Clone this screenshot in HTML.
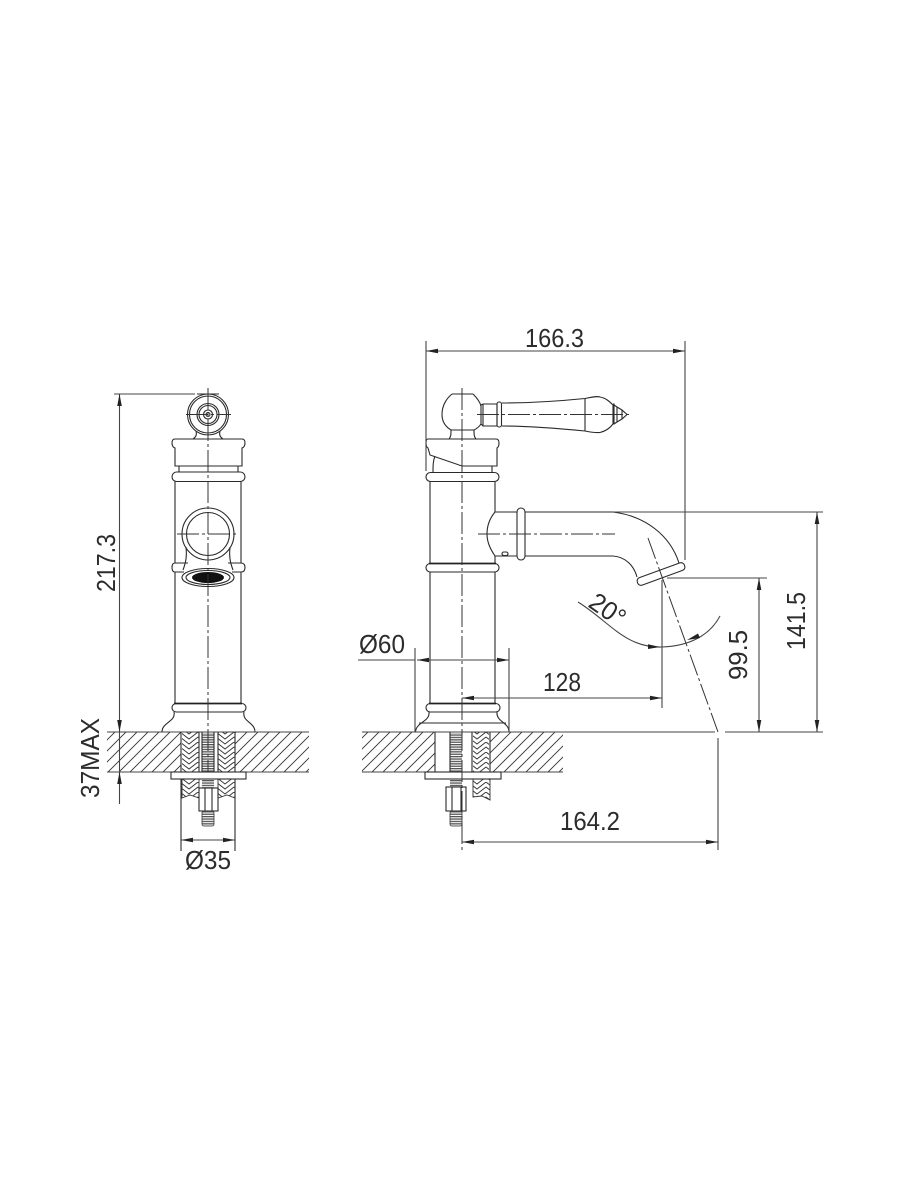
<!DOCTYPE html>
<html><head><meta charset="utf-8"><style>
html,body{margin:0;padding:0;background:#fff}
svg{display:block}
text{font-family:"Liberation Sans",sans-serif;font-size:26px;fill:#2c2c2c}
.o{fill:none;stroke:#2a2a2a;stroke-width:1.1}
.w{fill:#fff;stroke:#2a2a2a;stroke-width:1.1}
.d{fill:none;stroke:#444;stroke-width:1.1}
.c{fill:none;stroke:#333;stroke-width:1;stroke-dasharray:22 3 3 3}
.a{fill:#222;stroke:none}
</style></head><body>
<svg width="900" height="1200" viewBox="0 0 900 1200" xmlns="http://www.w3.org/2000/svg">
<defs>
<pattern id="h" width="11" height="11" patternUnits="userSpaceOnUse"><path d="M-2 13 L13 -2 M-2 2 L2 -2 M9 13 L13 9" stroke="#333" stroke-width=".9" fill="none"/></pattern>
<pattern id="z" x="0" y="732" width="18" height="10" patternUnits="userSpaceOnUse"><path d="M0 0 L9 7 L18 0 M0 -5 L9 2 L18 -5 M0 5 L9 12 L18 5" stroke="#333" stroke-width=".9" fill="none"/></pattern>
<pattern id="t" width="4" height="2.4" patternUnits="userSpaceOnUse"><rect width="4" height="1.3" fill="#555"/></pattern>
</defs>

<!-- LEFT VIEW -->
<g>
<path class="o" d="M196 431 C197 435 196 437 193 439 M220 431 C219 435 220 437 223 439"/>
<path class="o" d="M197 394 H219"/>
<circle class="o" cx="208" cy="414.5" r="20.5"/><circle class="o" cx="208" cy="414.5" r="18.5"/>
<circle class="o" cx="208" cy="414.5" r="11"/><circle class="o" cx="208" cy="414.5" r="9"/>
<circle class="o" cx="208" cy="414.5" r="4.5"/><circle class="o" cx="208" cy="414.5" r="2"/>
<path class="o" d="M175 439 H242 Q245 439 245 443 Q245 447 242 448 V466 H175 V448 Q172 447 172 443 Q172 439 175 439Z"/>
<path class="o" d="M179 466 V472 M238 466 V472"/>
<rect class="o" x="172" y="472" width="73" height="9.5" rx="4.7"/>
<path class="o" d="M175 481.500 V563 M241 481.500 V563 M175 572 V703 M241 572 V703"/>
<path class="o" d="M175 563 H188 M228 563 H241 M175 572 H184 M232 572 H241"/>
<path class="o" d="M175 563 Q172 563 172 567.500 Q172 572 175 572 M241 563 Q245 563 245 567.500 Q245 572 241 572"/>
<circle class="o" cx="208" cy="534" r="26"/><circle class="o" cx="208" cy="534" r="21.500"/>
<path class="o" d="M186 547 C187 556 186 562 183 570 M230 547 C229 556 230 562 233 570"/>
<ellipse class="w" cx="208" cy="577.500" rx="26" ry="9"/>
<ellipse class="o" cx="208" cy="577.500" rx="22" ry="7"/>
<ellipse cx="208" cy="577.500" rx="16" ry="5.500" fill="#111"/>
<!-- base -->
<rect class="o" x="172" y="703.500" width="74" height="8.500" rx="4.200"/>
<path d="M174 703.500 H242" stroke="#222" stroke-width="1.800"/>
<path class="o" d="M174 712 C176 722 162 722 162 732 M244 712 C242 722 255 722 255 732"/>
<!-- counter -->
<rect x="107" y="732" width="74" height="40" fill="url(#h)"/><rect x="235" y="732" width="74" height="40" fill="url(#h)"/>
<path class="d" d="M107 732 H309 M107 772 H171 M246 772 H309"/>
<path class="o" d="M181 732 V772 M235 732 V772"/>
<rect x="182" y="732" width="17" height="40" fill="url(#z)"/><rect x="218" y="732" width="17" height="40" fill="url(#z)"/>
<path d="M182 779 H199 V798 L190 795 L182 798Z M218 779 H235 V798 L227 795 L218 798Z" fill="url(#z)" stroke="#333" stroke-width=".9"/>
<path class="o" d="M199 732 V772 M218 732 V772"/>
<rect x="202" y="733" width="12" height="39" fill="url(#t)"/>
<path class="o" d="M202 732 V772 M214 732 V772"/>
<rect class="w" x="171" y="772" width="75" height="7"/>
<rect x="202" y="779" width="12" height="9" fill="url(#t)"/>
<rect class="w" x="199" y="788" width="19" height="23"/><path class="o" d="M205 788 V811 M212 788 V811"/>
<rect x="202" y="811" width="12" height="15" rx="2" fill="url(#t)" stroke="#333" stroke-width=".8"/>
<path class="c" d="M208 388 V772"/>
<path class="c" d="M177 534 H239"/><path class="c" d="M186 414.500 H231" stroke-dasharray="8 2 3 2"/>
<path class="o" d="M181 779 V851 M235 779 V851"/>
<!-- dims -->
<path class="d" d="M114 394 H195 M119.500 394 V804 M181 840 H235"/>
<path class="a" d="M119.500 394 l-2.300 12 h4.600Z M119.500 732 l-2.300 -12 h4.600Z M119.500 772 l-2.300 12 h4.600Z M181 840 l12 -2.300 v4.600Z M235 840 l-12 -2.300 v4.600Z"/>
</g>

<!-- RIGHT VIEW -->
<g>
<path class="o" d="M452 394 H473 M452 394 C447 398 442 405 442 414.500 C442 422 446 427 451 430 C451 434 451 437 449 439 M473 394 C476 397 480 402 481 406 M481 424 C479 427 476 429 474 430 C474 434 474 437 476 439"/>
<path class="o" d="M451 430 H474"/>
<path class="o" d="M481 405 L483 404 H497 V426 H483 L481 424Z M483 404 V426"/>
<rect class="o" x="497" y="402" width="4.500" height="25" rx="2"/>
<path class="o" d="M502 403 C530 403 560 401 585 398.500 C592 397 597 396 600 397 C606 398 610 402 613 405 V424 C610 428 606 431 600 432.500 C595 433 590 432 585 431 C560 428.500 530 426 502 426"/>
<path class="o" d="M585 398.500 V431"/>
<path class="o" d="M613 404 H614 V424 H613 M614 405 L617 407 L622 410 L627 414.500 L622 419 L617 422 L614 424 M617 407 V422 M622 410 V419"/>
<!-- cap -->
<path class="o" d="M428 439 H496 Q499 439 499 443 Q499 447 497 448 V466 H462 L430 455 L428 448 Q426 447 426 443 Q426 439 428 439Z"/>
<path class="o" d="M435 456 C433 461 433 466 433 472 M492 466 V472"/>
<rect class="w" x="426" y="472.500" width="73" height="9" rx="4.500"/>
<path class="o" d="M430 481.500 V563 M495 481.500 V512 M495 556 V563 M430 572 V703 M495 572 V703"/>
<rect class="w" x="426" y="563.500" width="73" height="8.500" rx="4.200"/>
<path d="M429 563.500 H496" stroke="#222" stroke-width="1.800"/>
<!-- spout -->
<path class="o" d="M495 512 C490 518 487 526 487 534 C487 543 491 550 495 556"/>
<path class="o" d="M495 512 H517 M525 512 H613 C645 516 670 535 679 563 M495 556 H517 M525 556 H613 C626 557 634 566 637 577"/>
<rect class="w" x="517" y="508" width="8" height="52" rx="4"/>
<rect class="o" x="502" y="552" width="6" height="3.500" rx="1.700"/>
<rect class="w" x="636" y="570" width="50" height="8" rx="3.500" transform="rotate(-20 661 574)"/>
<!-- base -->
<rect class="o" x="426" y="703.500" width="74" height="8.500" rx="4.200"/>
<path d="M429 703.500 H496" stroke="#222" stroke-width="1.800"/>
<path class="o" d="M429 712 C430 722 416 722 415.500 732 M497 712 C496 722 509 722 509 732 M419 723 H506"/>
<!-- counter -->
<rect x="362" y="732" width="73" height="40" fill="url(#h)"/><rect x="490" y="732" width="73" height="40" fill="url(#h)"/>
<path class="d" d="M362 732 H715 M362 772 H425 M501 772 H563 M725 732 H823"/>
<path class="o" d="M435 732 V772 M490 732 V772 M472 732 V772"/>
<rect x="473" y="732" width="16" height="40" fill="url(#z)"/>
<path d="M473 779 H490 V800 L482 796 L473 797Z" fill="url(#z)" stroke="#333" stroke-width=".9"/>
<rect x="450" y="733" width="12" height="39" fill="url(#t)"/>
<path class="o" d="M450 732 V772"/>
<rect class="w" x="425" y="772" width="76" height="7"/>
<rect x="450" y="779" width="12" height="8" fill="url(#t)"/>
<rect class="w" x="446" y="787" width="20" height="24"/><path class="o" d="M452 787 V811 M461 787 V811"/>
<rect x="450" y="811" width="12" height="15" rx="2" fill="url(#t)" stroke="#333" stroke-width=".8"/>
<!-- centre lines -->
<path class="c" d="M462 388 V850"/>
<path class="c" d="M477 414.500 H632"/>
<path class="c" d="M478 534 H615"/>
<path class="c" d="M648 538 L718 732"/>
<!-- dims -->
<path class="d" d="M426 341 V471 M685 341 V560 M426 351 H685"/>
<path class="d" d="M613 512 H823 M667 578 H767 M759 578 V732 M817 512 V732"/>
<path class="d" d="M662 580 V708 M415 648 V732 M509 648 V732"/>
<path class="d" d="M358 660 H415 M417 660 H509 M462 698 H662"/>
<path class="d" d="M718 738 V850 M462 842 H718"/>
<path class="d" d="M578 602 C610 622 625 648 662 647 C690 646 710 635 720 616"/>
<path class="a" d="M426 351 l12 -2.300 v4.600Z M685 351 l-12 -2.300 v4.600Z M759 578 l-2.300 12 h4.600Z M759 732 l-2.300 -12 h4.600Z M817 512 l-2.300 12 h4.600Z M817 732 l-2.300 -12 h4.600Z M417 660 l12 -2.300 v4.600Z M509 660 l-12 -2.300 v4.600Z M462 698 l12 -2.300 v4.600Z M662 698 l-12 -2.300 v4.600Z M462 842 l12 -2.300 v4.600Z M718 842 l-12 -2.300 v4.600Z M660 647 l-12 -2.800 v4.800Z M687 640 l11 -6.500 l2 4.500Z"/>
</g>

<!-- LABELS -->
<text x="525" y="347" textLength="59" lengthAdjust="spacingAndGlyphs">166.3</text>
<text x="543" y="691" textLength="38" lengthAdjust="spacingAndGlyphs">128</text>
<text x="560" y="830" textLength="60" lengthAdjust="spacingAndGlyphs">164.2</text>
<text x="359" y="653" textLength="46" lengthAdjust="spacingAndGlyphs">Ø60</text>
<text x="185" y="869" textLength="46" lengthAdjust="spacingAndGlyphs">Ø35</text>
<text transform="translate(115 592) rotate(-90)" textLength="58" lengthAdjust="spacingAndGlyphs">217.3</text>
<text transform="translate(99 798) rotate(-90)" textLength="80" lengthAdjust="spacingAndGlyphs">37MAX</text>
<text transform="translate(747 680) rotate(-90)" textLength="50" lengthAdjust="spacingAndGlyphs">99.5</text>
<text transform="translate(805 650) rotate(-90)" textLength="58" lengthAdjust="spacingAndGlyphs">141.5</text>
<text transform="translate(587 606) rotate(35)" textLength="38" lengthAdjust="spacingAndGlyphs">20°</text>
</svg>
</body></html>
